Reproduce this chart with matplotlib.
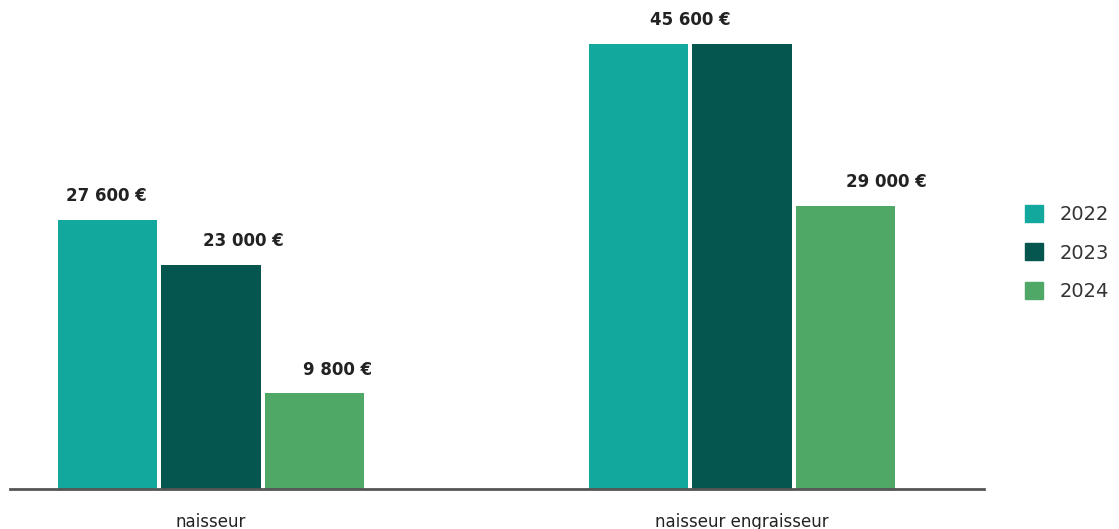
import matplotlib
matplotlib.use("Agg")
import matplotlib.pyplot as plt
from matplotlib.patches import Patch

# data
categories = ["naisseur", "naisseur engraisseur"]
years = ["2022", "2023", "2024"]
values = {
    "2022": [27600, 45600],
    "2023": [23000, 45600],
    "2024": [9800, 29000],
}
colors = {"2022": "#13a89e", "2023": "#04564e", "2024": "#4fa866"}

# label horizontal shift (px) relative to each bar centre, None = no label
label_shift = {
    "2022": [-1, 52],
    "2023": [32, None],
    "2024": [23, 41],
}

plt.rcParams["font.family"] = ["DejaVu Sans"]
txt = "#222222"

fig = plt.figure(figsize=(11.19, 5.29), dpi=100)
ax = fig.add_axes([10 / 1119, 40 / 529, 974 / 1119, 445 / 529])

width = 0.188
step = 0.195
for i, y in enumerate(years):
    xs = [c + (i - 1) * step for c in range(len(categories))]
    ax.bar(xs, values[y], width=width, color=colors[y], label=y)
    for x, v, dx in zip(xs, values[y], label_shift[y]):
        if dx is None:
            continue
        lab = f"{v:,}".replace(",", " ") + " €"
        ax.annotate(lab, (x, v), xytext=(dx * 0.72, 17), textcoords="offset points",
                    ha="center", va="center", fontsize=12, fontweight="bold",
                    color=txt, annotation_clip=False)

ax.set_xlim(-0.3785, 1.4557)
ax.set_ylim(0, max(max(v) for v in values.values()))
ax.set_xticks(range(len(categories)))
ax.set_xticklabels(categories, fontsize=12, color=txt)
ax.tick_params(axis="x", length=0, pad=17)
ax.set_yticks([])
for s in ["top", "right", "left"]:
    ax.spines[s].set_visible(False)
ax.spines["bottom"].set_color("#555555")
ax.spines["bottom"].set_linewidth(2)

handles = [Patch(color=colors[y], label=y) for y in years]
fig.legend(handles=handles, loc="center left", bbox_to_anchor=(1015 / 1119, 1 - 253 / 529),
           frameon=False, fontsize=14, handlelength=0.95, handleheight=0.95,
           handletextpad=0.85, labelspacing=1.0, borderpad=0, labelcolor="#333333")

fig.savefig("out.png", dpi=100)
